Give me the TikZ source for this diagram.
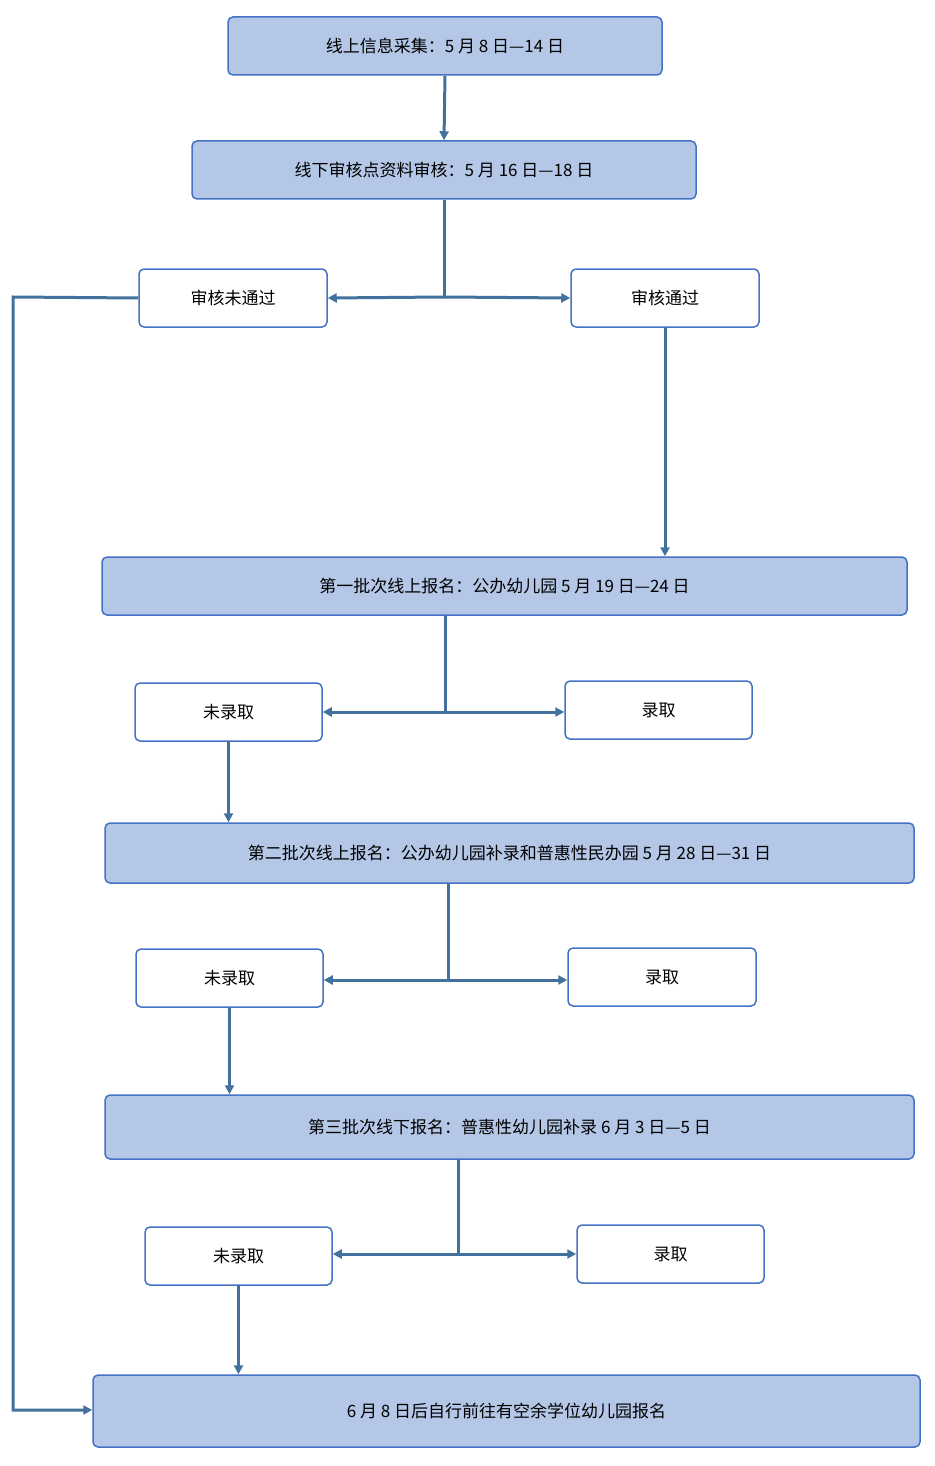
\documentclass[tikz,border=0pt]{standalone}
\usepackage{fontspec}
\setmainfont{Noto Sans CJK SC}
\usetikzlibrary{arrows.meta}
\definecolor{fillb}{HTML}{B4C7E7}
\definecolor{lineb}{HTML}{4472C4}
\definecolor{arr}{HTML}{41719C}
\begin{document}
\begin{tikzpicture}[x=1pt,y=-1pt,
 bx/.style={draw=lineb,line width=1.5pt,rounded corners=5pt,font=\fontsize{17}{20}\selectfont,inner sep=0pt},
 blue/.style={bx,fill=fillb},
 wht/.style={bx,fill=white},
 ar/.style={draw=arr,line width=3pt,-{Triangle[length=9pt,width=9pt]}},
 ln/.style={draw=arr,line width=3pt}]
\useasboundingbox (0,0) rectangle (934,1466);
\newcommand\bxn[6]{\node[#1,minimum width=#4-#2,minimum height=#5-#3] (#6) at ({(#2+#4)/2},{(#3+#5)/2}) {};}
\node[blue,minimum width=434pt,minimum height=58pt] (b1) at (445,46) {线上信息采集：5 月 8 日—14 日};
\node[blue,minimum width=504pt,minimum height=58pt] (b2) at (444,170) {线下审核点资料审核：5 月 16 日—18 日};
\node[wht,minimum width=188pt,minimum height=58pt] (f) at (233,298) {审核未通过};
\node[wht,minimum width=188pt,minimum height=58pt] (p) at (665,298) {审核通过};
\node[blue,minimum width=805pt,minimum height=58pt] (b3) at (504.5,586) {第一批次线上报名：公办幼儿园 5 月 19 日—24 日};
\node[wht,minimum width=187pt,minimum height=58pt] (n1) at (228.5,712) {未录取};
\node[wht,minimum width=187pt,minimum height=58pt] (y1) at (658.5,710) {录取};
\node[blue,minimum width=809pt,minimum height=60pt] (b4) at (509.5,853) {第二批次线上报名：公办幼儿园补录和普惠性民办园 5 月 28 日—31 日};
\node[wht,minimum width=187pt,minimum height=58pt] (n2) at (229.5,978) {未录取};
\node[wht,minimum width=188pt,minimum height=58pt] (y2) at (662,977) {录取};
\node[blue,minimum width=809pt,minimum height=64pt] (b5) at (509.5,1127) {第三批次线下报名：普惠性幼儿园补录 6 月 3 日—5 日};
\node[wht,minimum width=187pt,minimum height=58pt] (n3) at (238.5,1256) {未录取};
\node[wht,minimum width=187pt,minimum height=58pt] (y3) at (670.5,1254) {录取};
\node[blue,minimum width=827pt,minimum height=72pt] (b6) at (506.5,1411) {6 月 8 日后自行前往有空余学位幼儿园报名};
\coordinate (j1) at (444,297);
\coordinate (j2) at (445,712);
\coordinate (j3) at (448,980);
\coordinate (j4) at (458,1254);
\coordinate (c1) at (13,297);
\coordinate (c2) at (13,1410);
\draw[ar] (b1.south) -- (b2.north);
\draw[ln] (b2.south) -- (j1);
\draw[ar] (j1) -- (f.east);
\draw[ar] (j1) -- (p.west);
\draw[ar] (p.south) -- (p.south |- b3.north);
\draw[ln] (b3.south -| j2) -- (j2);
\draw[ar] (j2) -- (n1.east);
\draw[ar] (j2) -- (y1.west |- j2);
\draw[ar] (n1.south) -- (n1.south |- b4.north);
\draw[ln] (b4.south -| j3) -- (j3);
\draw[ar] (j3) -- (n2.east |- j3);
\draw[ar] (j3) -- (y2.west |- j3);
\draw[ar] (n2.south) -- (n2.south |- b5.north);
\draw[ln] (b5.south -| j4) -- (j4);
\draw[ar] (j4) -- (n3.east |- j4);
\draw[ar] (j4) -- (y3.west |- j4);
\draw[ar] (n3.south) -- (n3.south |- b6.north);
\draw[ar] (f.west) -- (c1) -- (c2) -- (b6.west |- c2);
\end{tikzpicture}
\end{document}
